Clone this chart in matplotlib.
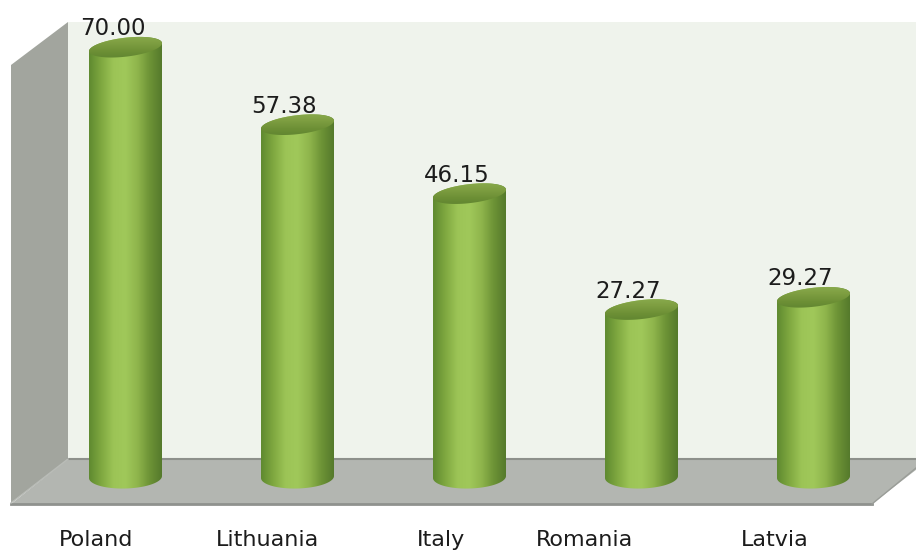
import matplotlib
matplotlib.use("Agg")
import matplotlib.pyplot as plt
import numpy as np
from matplotlib.colors import LinearSegmentedColormap
from matplotlib.patches import Polygon, PathPatch
from matplotlib.path import Path

countries = ["Poland", "Lithuania", "Italy", "Romania", "Latvia"]
values = [70.00, 57.38, 46.15, 27.27, 29.27]
# the category labels are not centred under the bars in the original
label_x = [96, 268, 441, 585, 775]

W, H = 916, 552
PX_PER_UNIT = 6.14
BASE_Y = 477
FIRST_X = 125.5
STEP_X = 172
HALF_W = 36.5 / STEP_X

fig = plt.figure(figsize=(W / 100, H / 100), dpi=100, facecolor="white")

# backdrop of the fake 3d box, in pixels
bg = fig.add_axes([0, 0, 1, 1])
bg.set_xlim(0, W)
bg.set_ylim(H, 0)
bg.axis("off")
bg.add_patch(Polygon([(68, 22), (930, 22), (930, 460), (68, 460)], fc="#eff3ec", ec="none"))
bg.add_patch(Polygon([(11, 65), (68, 22), (68, 460), (11, 503)], fc="#a2a59e", ec="none"))
bg.add_patch(Polygon([(11, 504), (68, 459), (930, 459), (872, 504)], fc="#b3b6b1", ec="none"))
bg.plot([68, 916], [459, 459], color="#8d908b", lw=1.5)
bg.plot([11, 872], [504, 504], color="#8f928e", lw=2)
bg.plot([872, 916], [504, 468], color="#9a9d98", lw=1)
bg.plot([11, 68], [503, 459], color="#b9bcb7", lw=1)
for x, name in zip(label_x, countries):
    bg.text(x, 540, name, ha="center", va="center", fontsize=16, color="#1c1c1c")

# bars, on real category / value scales
ax = fig.add_axes([0, 0, 1, 1], facecolor="none")
ax.axis("off")

body_cmap = LinearSegmentedColormap.from_list(
    "body", ["#5f8a30", "#7fa840", "#9cc456", "#a0c85a", "#8fb54c", "#6d9336", "#557a2c"])
top_cmap = LinearSegmentedColormap.from_list(
    "top", ["#8cae50", "#7f9f42", "#6c8f35", "#5d8230"])
grad = np.linspace(0, 1, 200).reshape(1, -1)
grad_v = np.linspace(0, 1, 60).reshape(-1, 1)

t = np.linspace(0, 2 * np.pi, 120)
ell_h = 9.5 / PX_PER_UNIT
tilt = 4 / PX_PER_UNIT
base_h = 11.5 / PX_PER_UNIT
base_tilt = 1 / PX_PER_UNIT


def ellipse(cx, v, h, lean):
    return np.column_stack([cx + HALF_W * np.cos(t), v + h * np.sin(t) + lean * np.cos(t)])


for i, v in enumerate(values):
    top = ellipse(i, v, ell_h, tilt)
    bottom = ellipse(i, 0, base_h, base_tilt)
    # upper half of the top ellipse + lower half of the bottom ellipse make the body
    outline = np.vstack([top[t <= np.pi], bottom[t >= np.pi], top[:1]])
    clip = PathPatch(Path(outline), transform=ax.transData, fc="none", ec="none")
    ax.add_patch(clip)
    im = ax.imshow(grad, cmap=body_cmap, aspect="auto", zorder=2,
                   extent=[i - HALF_W, i + HALF_W, -3, v + 3])
    im.set_clip_path(clip)

    cap = PathPatch(Path(top), transform=ax.transData, fc="none", ec="none")
    ax.add_patch(cap)
    im2 = ax.imshow(grad_v, cmap=top_cmap, aspect="auto", zorder=3, origin="upper",
                    extent=[i - HALF_W, i + HALF_W, v - ell_h - tilt, v + ell_h + tilt])
    im2.set_clip_path(cap)

    ax.annotate(f"{v:.2f}", (i, v), xytext=(-9.4, 8.6), textcoords="offset points",
                ha="center", va="baseline", fontsize=16.5, color="#1c1c1c", zorder=5)

ax.set_xlim(-FIRST_X / STEP_X, (W - FIRST_X) / STEP_X)
ax.set_ylim((BASE_Y - H) / PX_PER_UNIT, BASE_Y / PX_PER_UNIT)

fig.savefig("out.png", dpi=100)
